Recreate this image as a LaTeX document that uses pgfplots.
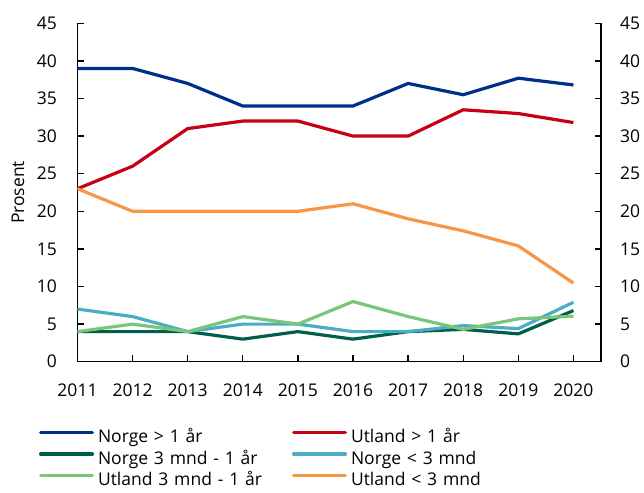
\documentclass[border=0pt]{standalone}
\usepackage{fontspec}
\setmainfont{Open Sans}
\usepackage{pgfplots}
\pgfplotsset{compat=1.18}
\definecolor{cNb}{RGB}{0,47,135}
\definecolor{cUr}{RGB}{200,0,20}
\definecolor{cNg}{RGB}{0,95,75}
\definecolor{cNl}{RGB}{75,172,198}
\definecolor{cUg}{RGB}{120,198,121}
\definecolor{cUo}{RGB}{247,150,70}
\begin{document}
\fontsize{17.5}{21}\selectfont
\begin{tikzpicture}
\useasboundingbox (-77.5pt,-130.3pt) rectangle (566.5pt,361.7pt);
\pgfplotsset{
  common/.style={
    scale only axis, width=523.5pt, height=338.4pt,
    at={(0pt,0pt)}, anchor=south west,
    xmin=2011, xmax=2020.5, ymin=0, ymax=45,
    ytick={0,5,...,45},
    tick align=inside,
    major tick length=6.5pt,
    every tick/.style={black, line width=1.3pt},
    axis line style={-, line width=1.5pt, black},
    /pgf/number format/assume math mode=true,
    /pgf/number format/1000 sep={},
    tick label style={font=\fontsize{17.5}{21}\selectfont, inner sep=0pt},
  }
}
\begin{axis}[common,
  axis x line*=bottom, axis y line*=left,
  xtick={2011,...,2020},
  xticklabel style={anchor=north, yshift=-22.3pt},
  yticklabel style={anchor=east, xshift=-20.5pt},
  ylabel={Prosent},
  every axis y label/.style={at={(axis description cs:-0.1137,0.5)}, rotate=90, anchor=center, font=\fontsize{17.5}{21}\selectfont},
  legend columns=2,
  legend cell align=left,
  legend image code/.code={\draw[#1, line cap=round] (1.6pt,5pt) -- (53.4pt,5pt);},
  legend style={at={(axis description cs:-0.0735,-0.2018)}, anchor=north west,
    draw=none, fill=none, inner sep=0pt, outer sep=0pt,
    column sep=4pt, row sep=7.2pt,
    font=\fontsize{17.5}{21}\selectfont,
    nodes={inner sep=0pt, text height=12.5pt, text depth=2pt, text width=190pt, align=left}},
  every axis plot/.append style={line width=3.2pt, mark=none, line join=round},
]
\addplot[cNb] coordinates {(2011,39)(2012,39)(2013,37)(2014,34)(2015,34)(2016,34)(2017,37)(2018,35.5)(2019,37.7)(2020,36.8)};
\addlegendentry{Norge > 1 år}
\addplot[cUr] coordinates {(2011,23)(2012,26)(2013,31)(2014,32)(2015,32)(2016,30)(2017,30)(2018,33.5)(2019,33)(2020,31.8)};
\addlegendentry{Utland > 1 år}
\addplot[cNg] coordinates {(2011,4)(2012,4)(2013,4)(2014,3)(2015,4)(2016,3)(2017,4)(2018,4.3)(2019,3.7)(2020,6.8)};
\addlegendentry{Norge 3 mnd - 1 år}
\addplot[cNl] coordinates {(2011,7)(2012,6)(2013,4)(2014,5)(2015,5)(2016,4)(2017,4)(2018,4.8)(2019,4.4)(2020,7.9)};
\addlegendentry{Norge < 3 mnd}
\addplot[cUg] coordinates {(2011,4)(2012,5)(2013,4)(2014,6)(2015,5)(2016,8)(2017,6)(2018,4.3)(2019,5.7)(2020,6.05)};
\addlegendentry{Utland 3 mnd - 1 år}
\addplot[cUo] coordinates {(2011,23)(2012,20)(2013,20)(2014,20)(2015,20)(2016,21)(2017,19)(2018,17.4)(2019,15.4)(2020,10.45)};
\addlegendentry{Utland < 3 mnd}
\end{axis}
\begin{axis}[common,
  axis x line=none, axis y line*=right,
  yticklabel style={anchor=west, xshift=19pt},
]
\end{axis}
\end{tikzpicture}
\end{document}
